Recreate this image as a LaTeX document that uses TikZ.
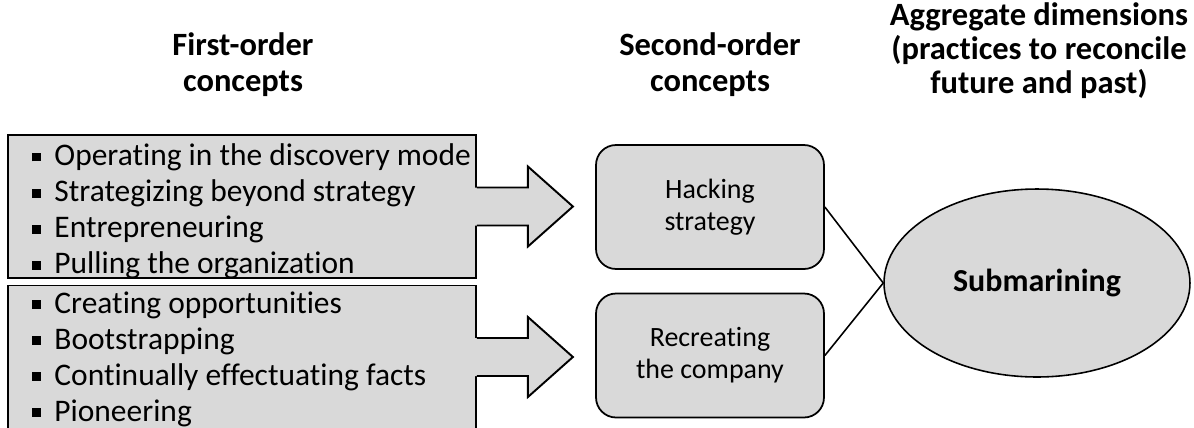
\documentclass[tikz,border=0pt]{standalone}
\usepackage{fontspec}
\setmainfont{Carlito}[Ligatures=NoCommon]
\usetikzlibrary{calc,shapes.geometric}
\definecolor{boxgray}{HTML}{D9D9D9}
\newcommand{\sqb}{\rule[0.28ex]{0.28em}{0.28em}\hspace{0.42em}}
\tikzset{
  listbox/.style={draw, line width=1.1pt, fill=boxgray, minimum width=9.36cm,
    minimum height=2.86cm, inner sep=0pt},
  listtext/.style={anchor=west, align=left, inner sep=0pt,
    font=\fontsize{17.9}{20.5}\selectfont},
  conceptbox/.style={draw, line width=1pt, fill=boxgray, rounded corners=0.4cm,
    minimum width=4.56cm, minimum height=2.48cm, align=center,
    font=\fontsize{15.9}{18.1}\selectfont},
  header/.style={align=center, font=\bfseries\fontsize{18.5}{20.4}\selectfont},
  arrowline/.style={line width=1.1pt, line join=miter}
}
\begin{document}
\begin{tikzpicture}[x=0.02cm, y=-0.02cm]
  \useasboundingbox (0,0) rectangle (1194,427);
  % column headers
  \node[header] (h1) at (243,65) {First-order\\concepts};
  \node[header] (h2) at (710,65) {Second-order\\concepts};
  \node[header, font=\bfseries\fontsize{18.5}{19.4}\selectfont] (h3) at (1039,51)
    {Aggregate dimensions\\(practices to reconcile\\future and past)};
  % first-order lists
  \node[listbox] (list1) at (242,206.5) {};
  \node[listbox] (list2) at (242,357) {};
  \node[listtext] (txt1) at ($(list1.west)+(25,5)$) {\sqb Operating in the discovery mode\\
    \sqb Strategizing beyond strategy\\ \sqb Entrepreneuring\\
    \sqb Pulling the organization};
  \node[listtext] (txt2) at ($(list2.west)+(25,2)$) {\sqb Creating opportunities\\
    \sqb Bootstrapping\\ \sqb Continually effectuating facts\\
    \sqb Pioneering};
  % block arrows
  \foreach \b in {list1,list2} {
    \fill[boxgray] ($(\b.east)+(-3,-19)$) -- ($(\b.east)+(51,-19)$)
      -- ($(\b.east)+(51,-40)$) -- ($(\b.east)+(96,0)$) -- ($(\b.east)+(51,40)$)
      -- ($(\b.east)+(51,19)$) -- ($(\b.east)+(-3,19)$) -- cycle;
    \draw[arrowline] ($(\b.east)+(0,-19)$) -- ($(\b.east)+(51,-19)$)
      -- ($(\b.east)+(51,-40)$) -- ($(\b.east)+(96,0)$) -- ($(\b.east)+(51,40)$)
      -- ($(\b.east)+(51,19)$) -- ($(\b.east)+(0,19)$);
  }
  % second-order concepts
  \node[conceptbox] (hack) at (710,207) {Hacking\\strategy};
  \node[conceptbox] (recr) at (710,355.5) {Recreating\\the company};
  % aggregate dimension
  \node[draw, line width=0.9pt, fill=boxgray, ellipse, minimum width=6.12cm,
    minimum height=3.76cm, font=\bfseries\fontsize{18.2}{20}\selectfont]
    (sub) at (1037,283) {Submarining};
  \draw[line width=0.9pt] (hack.east) -- (sub.west) (recr.east) -- (sub.west);
\end{tikzpicture}
\end{document}
